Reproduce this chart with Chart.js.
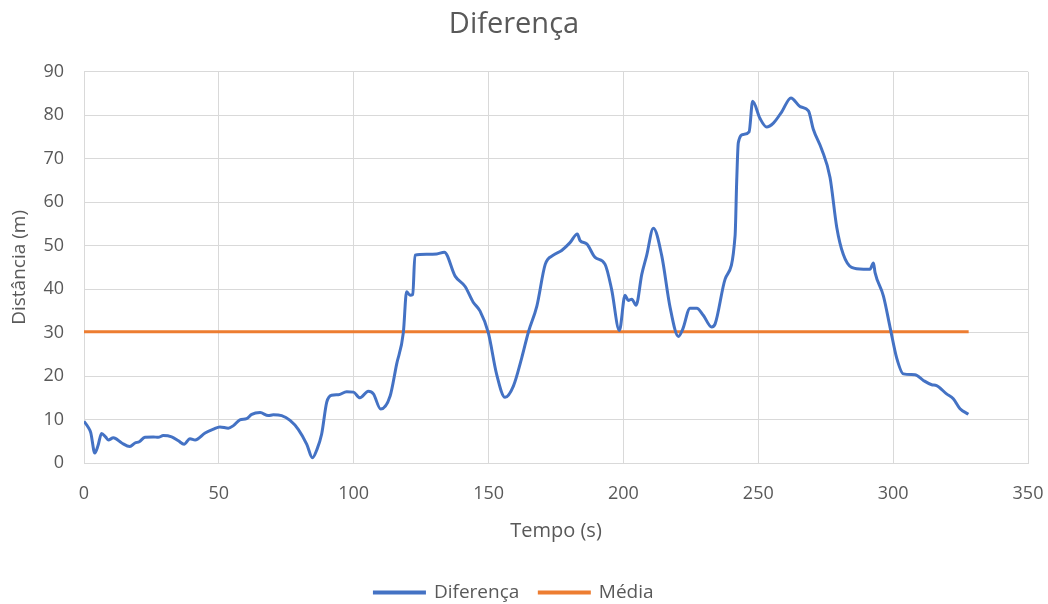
<!DOCTYPE html>
<html>
<head>
<meta charset="utf-8">
<script src="https://cdn.jsdelivr.net/npm/chart.js@4/dist/chart.umd.min.js"></script>
<style>
  html, body { margin: 0; padding: 0; background: #fff; }
  #wrap { width: 1048px; height: 604px; position: relative; }
</style>
</head>
<body>
<div id="wrap"><canvas id="chart"></canvas></div>
<script>
// Tempo (s) and Distância (m)
const tempo = [0, 1.5, 2.5, 4, 5.2, 6.5, 8, 9, 10.9, 14, 17, 18.9, 20.5, 22.6, 25.7, 27.5, 29.4, 32.5, 35, 37.1,
  39.3, 41.2, 44.9, 48, 50.4, 53.5, 55.4, 57.8, 60.3, 62.2, 65.3, 68.3, 70.2, 73.3, 76.4, 79.5, 82.6, 84.7, 86.3, 88.1,
  90, 91.8, 94.3, 97.4, 99.9, 102.3, 105.4, 107.3, 110, 113.5, 115.9, 118.4, 119.6, 120.9, 121.9, 122.7, 127, 130.8, 133.6, 137.6,
  141.3, 144.3, 146.8, 149.9, 153, 156.1, 159.2, 162.3, 164.8, 167.9, 171, 174, 177.1, 180.2, 182.9, 183.9, 186.4, 189.5, 193.2, 195.6,
  198.5, 200.6, 201.8, 203.1, 204.7, 206.8, 208.6, 211.1, 214.2, 217.3, 220.4, 222, 224.7, 227.2, 229.6, 232.7, 234, 237.7, 241.4, 242,
  242.6, 244.5, 246.6, 247.9, 250.6, 253.1, 255.6, 258.7, 262.1, 265.5, 268.6, 270.4, 273.5, 276.6, 279.1, 281.5, 284.6, 289, 291.4, 292.7,
  293.3, 296.4, 298.9, 301.3, 303.8, 308.1, 311.2, 314.3, 316.1, 319.8, 322.3, 324.8, 327.9];
const diferenca = [9.6, 8.3, 7, 2.3, 4, 6.8, 6, 5.3, 5.8, 4.6, 3.8, 4.6, 4.9, 5.9, 6, 5.9, 6.3, 6, 5.1, 4.3,
  5.6, 5.3, 6.9, 7.8, 8.3, 8, 8.6, 9.9, 10.2, 11.2, 11.6, 10.9, 11.1, 10.9, 9.8, 7.7, 4.3, 1.2, 3, 6.6,
  14, 15.6, 15.7, 16.4, 16.3, 15, 16.5, 15.9, 12.4, 15.4, 22.7, 30, 39.4, 38.6, 38.8, 47.8, 48, 48.1, 48.5, 43,
  40.6, 37, 35, 30, 20.4, 15.1, 17.7, 24.2, 30.2, 36.1, 45.7, 47.8, 48.9, 50.7, 52.7, 51.2, 50.4, 47.3, 45.7, 40,
  30.5, 38.6, 37.4, 37.7, 36.3, 43.4, 47.7, 54, 47.7, 35.8, 29.1, 30.8, 35.6, 35.6, 34, 31.3, 32, 42.3, 52.3, 64.9,
  73.7, 75.6, 76.2, 83.2, 79.3, 77.3, 78.2, 80.8, 84, 82, 81, 76.8, 72.2, 65.7, 54.2, 48, 45, 44.6, 44.6, 46,
  43.8, 38.4, 31.1, 24.2, 20.5, 20.3, 19, 18, 17.8, 15.9, 14.8, 12.5, 11.2];

const mediaTempo = [0, 328];
const media = [30.2, 30.2];

const xTicks = [0, 50, 100, 150, 200, 250, 300, 350];
const yTicks = [0, 10, 20, 30, 40, 50, 60, 70, 80, 90];

const textColor = '#595959';
const gridColor = '#d9d9d9';
const fontFamily = '"Open Sans", "Noto Sans", sans-serif';

const toPoints = (xs, ys) => xs.map((x, i) => ({ x: x, y: ys[i] }));

// legend keeps wide gaps between items but sits lower, like the Excel one
const legendShift = {
  id: 'legendShift',
  beforeUpdate(chart) {
    const legend = chart.legend;
    if (legend && !legend._shifted) {
      const fit = legend.fit;
      legend.fit = function () { fit.call(this); this.height -= 8; };
      legend._shifted = true;
    }
  }
};

new Chart(document.getElementById('chart'), {
  type: 'line',
  data: {
    datasets: [{
      label: 'Diferença',
      data: toPoints(tempo, diferenca),
      borderColor: '#4472C4',
      backgroundColor: '#4472C4',
      borderWidth: 3,
      pointRadius: 0,
      cubicInterpolationMode: 'monotone'
    }, {
      label: 'Média',
      data: toPoints(mediaTempo, media),
      borderColor: '#ED7D31',
      backgroundColor: '#ED7D31',
      borderWidth: 3,
      pointRadius: 0
    }]
  },
  plugins: [legendShift],
  options: {
    responsive: true,
    maintainAspectRatio: false,
    animation: false,
    layout: { padding: { left: 0, right: 20, top: 0, bottom: 0 } },
    plugins: {
      title: {
        display: true,
        text: 'Diferença',
        color: textColor,
        font: { family: fontFamily, size: 29, weight: 'normal' },
        padding: { top: 7, bottom: 30 }
      },
      legend: {
        position: 'bottom',
        labels: {
          color: textColor,
          font: { family: fontFamily, size: 19 },
          boxWidth: 50,
          boxHeight: 1,
          padding: 20
        }
      },
      tooltip: { enabled: false }
    },
    scales: {
      x: {
        type: 'linear',
        min: 0,
        max: 350,
        afterBuildTicks: (scale) => { scale.ticks = xTicks.map(v => ({ value: v })); },
        afterFit: (scale) => {
          scale.height = 100;
          scale.paddingLeft = 0;
          scale.paddingRight = 0;
        },
        grid: { color: gridColor, drawTicks: false },
        border: { color: gridColor },
        ticks: { color: textColor, font: { family: fontFamily, size: 18 }, padding: 20 },
        title: {
          display: true,
          text: 'Tempo (s)',
          color: textColor,
          font: { family: fontFamily, size: 20 },
          padding: { top: 15, bottom: 20 }
        }
      },
      y: {
        min: 0,
        max: 90,
        afterBuildTicks: (scale) => { scale.ticks = yTicks.map(v => ({ value: v })); },
        afterFit: (scale) => { scale.width = 84; },
        grid: { color: gridColor, drawTicks: false },
        border: { display: false },
        ticks: { color: textColor, font: { family: fontFamily, size: 18 }, padding: 20 },
        title: {
          display: true,
          text: 'Distância (m)',
          color: textColor,
          font: { family: fontFamily, size: 19 },
          padding: { top: 8, bottom: 0 }
        }
      }
    }
  }
});
</script>
</body>
</html>
